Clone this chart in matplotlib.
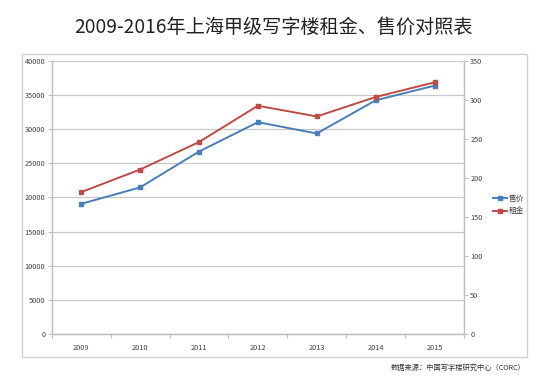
import matplotlib
matplotlib.use("Agg")
import matplotlib.pyplot as plt
from matplotlib.patches import Rectangle
from matplotlib.lines import Line2D

plt.rcParams['font.family'] = ['Noto Sans CJK SC', 'DejaVu Sans']

# data
years = ['2009', '2010', '2011', '2012', '2013', '2014', '2015']
price = [19050, 21450, 26700, 31000, 29350, 34200, 36350]   # 售价, left axis
rent = [181.7, 210.6, 245.8, 292.3, 278.6, 303.5, 322.3]     # 租金, right axis
left_ticks = list(range(0, 40001, 5000))
right_ticks = list(range(0, 351, 50))

blue = '#4a7ebb'
red = '#be4b48'
grey = '#bfbfbf'
txt = '#404040'

fig = plt.figure(figsize=(5.51, 3.85), dpi=100)

# chart area border
fig.patches.append(Rectangle((22/551, 1-357/385), (527-22)/551, (357-54)/385,
                             transform=fig.transFigure, fill=False,
                             edgecolor='#d0d0d0', linewidth=1.0))

ax = fig.add_axes([51.7/551, 1-334/385, (464-51.7)/551, (334-60.7)/385])
ax2 = ax.twinx()

x = list(range(len(years)))
ax.plot(x, price, color=blue, lw=1.4, marker='s', ms=3.2, label='售价')
ax2.plot(x, rent, color=red, lw=1.4, marker='s', ms=3.2, label='租金')

ax.set_xlim(-0.5, 6.5)
ax.set_ylim(0, 40000)
ax2.set_ylim(0, 350)
ax.set_yticks(left_ticks)
ax2.set_yticks(right_ticks)
ax.set_yticklabels([str(v) for v in left_ticks])
ax2.set_yticklabels([str(v) for v in right_ticks])

# category boundaries as major ticks, labels at centres
ax.set_xticks([i - 0.5 for i in range(len(years) + 1)])
ax.set_xticklabels([])
ax.set_xticks(x, minor=True)
ax.set_xticklabels(years, minor=True)
ax.tick_params(axis='x', which='major', length=3, color=grey)
ax.tick_params(axis='x', which='minor', length=0, pad=7.5, labelsize=5.3, labelcolor=txt)

ax.grid(axis='y', color='#c8c8c8', lw=0.9)
ax.set_axisbelow(True)
ax.tick_params(axis='y', length=3, color=grey, pad=1.5, labelsize=5.3, labelcolor=txt)
ax2.tick_params(axis='y', length=3, color=grey, pad=1.5, labelsize=5.3, labelcolor=txt)

for a in (ax, ax2):
    for s in a.spines.values():
        s.set_visible(False)
    for s in ('left', 'bottom', 'right'):
        a.spines[s].set_visible(True)
        a.spines[s].set_color(grey)
        a.spines[s].set_linewidth(0.9)

handles = [Line2D([], [], color=blue, lw=1.4, marker='s', ms=3),
           Line2D([], [], color=red, lw=1.4, marker='s', ms=3)]
fig.legend(handles, ['售价', '租金'], loc='center left',
           bbox_to_anchor=(486/551, 1-205/385), frameon=False,
           fontsize=5.5, handlelength=1.8, handletextpad=0.3,
           labelspacing=0.6, labelcolor=txt)

fig.text(0.497, 1-27/385, '2009-2016年上海甲级写字楼租金、售价对照表',
         ha='center', va='center', fontsize=13.8, color='#222222')
fig.text(526/551, 1-368/385, '数据来源：中国写字楼研究中心（CORC）',
         ha='right', va='center', fontsize=5.2, color='#333333')

fig.savefig('out.png', dpi=100, facecolor='white')
